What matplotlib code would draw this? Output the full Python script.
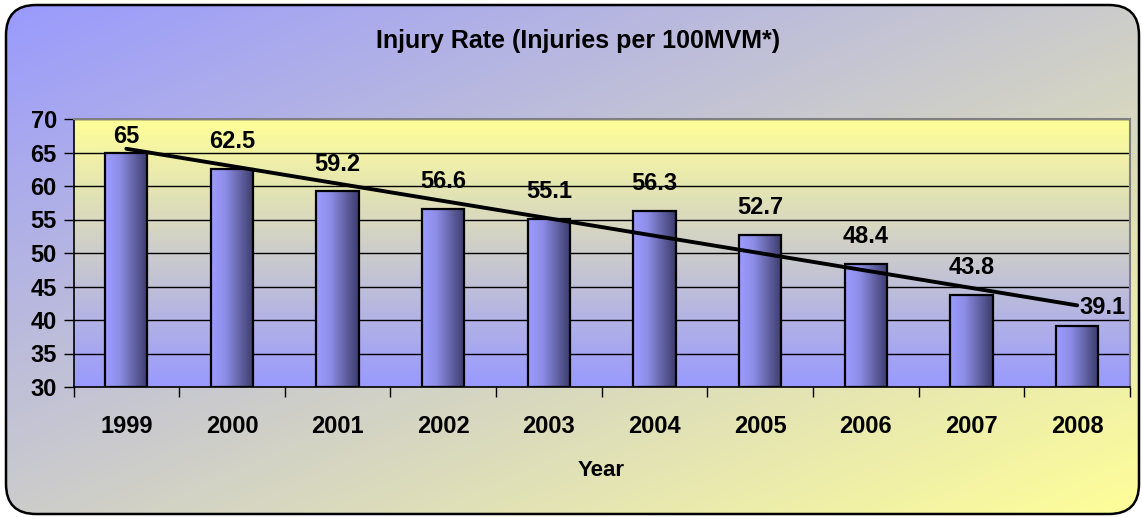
import numpy as np
import matplotlib
matplotlib.use("Agg")
import matplotlib.pyplot as plt
from matplotlib.patches import FancyBboxPatch
from matplotlib.colors import LinearSegmentedColormap

# ---- data ----
years = ["1999", "2000", "2001", "2002", "2003", "2004", "2005", "2006", "2007", "2008"]
rates = [65, 62.5, 59.2, 56.6, 55.1, 56.3, 52.7, 48.4, 43.8, 39.1]
title = "Injury Rate (Injuries per 100MVM*)"
xlabel = "Year"
y_ticks = [30, 35, 40, 45, 50, 55, 60, 65, 70]

plt.rcParams['font.family'] = ['Liberation Sans', 'DejaVu Sans']
plt.rcParams['font.weight'] = 'bold'

W, H = 1142, 517
fig = plt.figure(figsize=(W / 100, H / 100), dpi=100)
fig.patch.set_facecolor("white")

# ---- figure background: diagonal gradient inside rounded rectangle ----
bg = fig.add_axes([0, 0, 1, 1], zorder=-10)
bg.set_xlim(0, W)
bg.set_ylim(H, 0)
bg.axis("off")
xx, yy = np.meshgrid(np.linspace(0, 1, 300), np.linspace(0, 1, 150))
t = (xx + yy) / 2
blue = np.array([0x99, 0x99, 0xFF]) / 255
yellow = np.array([0xFF, 0xFF, 0x99]) / 255
img = blue[None, None, :] * (1 - t[..., None]) + yellow[None, None, :] * t[..., None]
im = bg.imshow(img, extent=[0, W, H, 0], aspect="auto", interpolation="bilinear")
frame = FancyBboxPatch((6, 5), 1133, 509, boxstyle="round,pad=0,rounding_size=30",
                       facecolor="none", edgecolor="black", linewidth=1.8)
bg.add_patch(frame)
im.set_clip_path(frame)

# ---- main axes ----
x0, x1, ytop, ybot = 73.5, 1130, 119, 387
ax = fig.add_axes([x0 / W, 1 - ybot / H, (x1 - x0) / W, (ybot - ytop) / H])
ax.set_facecolor("none")
n = len(years)
ax.set_xlim(-0.5, n - 0.5)
ax.set_ylim(30, 70)

# plot-area gradient (yellow top -> blue bottom)
pa = np.linspace(0, 1, 200)[:, None]
pa_img = yellow[None, None, :] * (1 - pa[..., None]) + blue[None, None, :] * pa[..., None]
ax.imshow(pa_img, extent=[-0.5, n - 0.5, 30, 70], aspect="auto", zorder=0,
          origin="upper", interpolation="bilinear")

# grid
for yv in y_ticks[1:]:
    ax.axhline(yv, color="black", linewidth=1.0, zorder=1)

# bars with horizontal gradient
bar_cmap = LinearSegmentedColormap.from_list("barg", ["#9c9cff", "#8e8ee8", "#6464a8", "#3c3c6c"])
grad = np.linspace(0, 1, 100)[None, :]
xs = np.arange(n)
bw = 0.4
bars = ax.bar(xs, np.array(rates) - 30, bottom=30, width=bw, facecolor="none",
              edgecolor="black", linewidth=1.6, zorder=3)
for b in bars:
    bx, by = b.get_x(), b.get_y()
    ax.imshow(grad, extent=[bx, bx + b.get_width(), by, by + b.get_height()],
              cmap=bar_cmap, aspect="auto", zorder=2, interpolation="bilinear")

# linear trend line
coef = np.polyfit(xs, rates, 1)
ax.plot([xs[0], xs[-1]], np.polyval(coef, [xs[0], xs[-1]]), color="black",
        linewidth=2.8, zorder=4, solid_capstyle="round")

# data labels
offsets = [(0, 6.5)] + [(0, 15)] * (n - 2) + [(18, 8.5)]
for xi, v, off in zip(xs, rates, offsets):
    ax.annotate(f"{v:g}", (xi, v), xytext=off, textcoords="offset points",
                ha="center", va="baseline", fontsize=17, fontweight="bold", zorder=5)

# axes styling
ax.set_yticks(y_ticks)
ax.set_yticklabels([str(v) for v in y_ticks], fontsize=17, fontweight="bold")
ax.tick_params(axis="y", direction="out", length=7, width=1, pad=5)
ax.set_xticks(xs)
ax.set_xticklabels(years, fontsize=17, fontweight="bold")
ax.set_xticks(np.arange(-0.5, n, 1), minor=True)
ax.tick_params(axis="x", which="major", length=0, pad=20)
ax.tick_params(axis="x", which="minor", direction="out", length=7, width=1)
for s in ["left", "bottom"]:
    ax.spines[s].set_color("black")
    ax.spines[s].set_linewidth(1.2)
for s in ["top", "right"]:
    ax.spines[s].set_color("#808080")
    ax.spines[s].set_linewidth(1.5)
ax.spines["bottom"].set_zorder(6)

fig.text(578 / W, 1 - 41 / H, title, ha="center", va="center", fontsize=18, fontweight="bold")
fig.text(601 / W, 1 - 470 / H, xlabel, ha="center", va="center", fontsize=16, fontweight="bold")

fig.savefig("out.png", dpi=100)
